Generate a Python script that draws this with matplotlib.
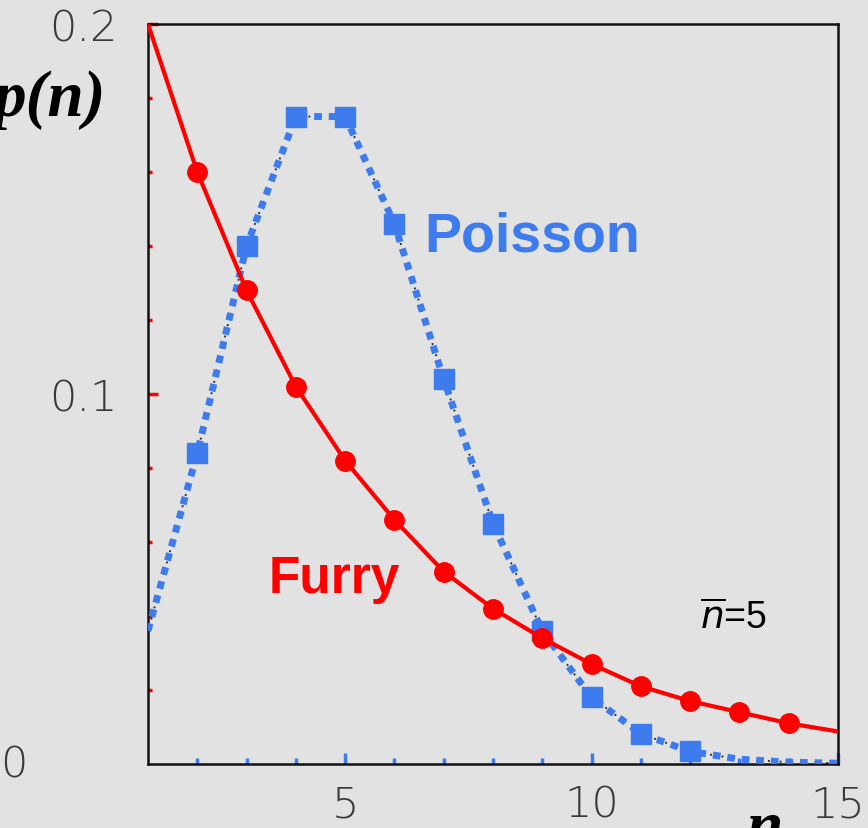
import numpy as np
import matplotlib.pyplot as plt

# 读图得到的数据
n_furry = [1, 2, 3, 4, 5, 6, 7, 8, 9, 10, 11, 12, 13, 14, 15]
p_furry = [0.200, 0.160, 0.128, 0.102, 0.082, 0.066, 0.052, 0.042,
           0.034, 0.027, 0.021, 0.017, 0.014, 0.011, 0.0088]
furry_marked = [2, 3, 4, 5, 6, 7, 8, 9, 10, 11, 12, 13, 14]

n_poisson = [1, 2, 3, 4, 5, 6, 7, 8, 9, 10, 11, 12, 13, 14, 15]
p_poisson = [0.036, 0.084, 0.140, 0.175, 0.175, 0.146, 0.104, 0.065,
             0.036, 0.018, 0.0082, 0.0034, 0.0013, 0.0005, 0.0002]
poisson_marked = [2, 3, 4, 5, 6, 7, 8, 9, 10, 11, 12]

y_major = [0.1, 0.2]
y_minor = [0.02, 0.04, 0.06, 0.08, 0.12, 0.14, 0.16, 0.18]
x_major = [5, 10, 15]
x_minor = [2, 3, 4, 6, 7, 8, 9, 11, 12, 13, 14]

RED = '#ff0000'
BLUE = '#3d7bef'
BG = '#e2e2e2'


def main():
    fig = plt.figure(figsize=(8.68, 8.29), dpi=100, facecolor=BG)
    ax = fig.add_axes([0.1705, 0.0772, 0.7949, 0.8926])
    ax.set_facecolor(BG)

    # Poisson: 细黑点线 + 粗蓝点线
    ax.plot(n_poisson, p_poisson, color='#333333', lw=1.4,
            linestyle=(0, (1, 5)), zorder=2)
    ax.plot(n_poisson, p_poisson, color=BLUE, lw=5,
            linestyle=(0, (1.1, 1.0)), zorder=3)
    pm = [p_poisson[n_poisson.index(k)] for k in poisson_marked]
    ax.plot(poisson_marked, pm, 's', color=BLUE, ms=14, zorder=4)

    # Furry
    ax.plot(n_furry, p_furry, color=RED, lw=3, zorder=5)
    fm = [p_furry[n_furry.index(k)] for k in furry_marked]
    ax.plot(furry_marked, fm, 'o', color=RED, ms=14, zorder=6)

    ax.set_xlim(1, 15)
    ax.set_ylim(0, 0.2)

    for s in ax.spines.values():
        s.set_color('#111111')
        s.set_linewidth(1.8)

    ax.set_yticks(y_major)
    ax.set_yticklabels(['0.1', '0.2'])
    ax.set_yticks(y_minor, minor=True)
    ax.set_xticks(x_major)
    ax.set_xticklabels(['5', '10', '15'])
    ax.set_xticks(x_minor, minor=True)

    ax.tick_params(axis='y', which='major', direction='in', length=7,
                   width=2.5, color=RED, pad=22, labelsize=31,
                   labelcolor='#3a3a3a')
    ax.tick_params(axis='y', which='minor', direction='in', length=3,
                   width=2.5, color=RED)
    ax.tick_params(axis='x', which='major', direction='in', length=8,
                   width=2.5, color=BLUE, pad=14, labelsize=31,
                   labelcolor='#3a3a3a')
    ax.tick_params(axis='x', which='minor', direction='in', length=4,
                   width=2.5, color=BLUE)
    for lab in ax.get_xticklabels() + ax.get_yticklabels():
        lab.set_fontweight('light')
    ax.text(-0.194, 0.0, '0', transform=ax.transAxes, ha='center',
            va='center', fontsize=31, color='#3a3a3a', fontweight='light')

    # 标注
    ax.text(6.6, 0.1425, 'Poisson', color=BLUE, fontsize=40,
            fontweight='bold', family='Liberation Sans', va='center')
    ax.text(3.45, 0.0502, 'Furry', color=RED, fontsize=37,
            fontweight='bold', family='Liberation Sans', va='center')
    ax.text(12.2, 0.0395, r'$\overline{n}$=5', color='black', fontsize=27,
            family='Liberation Sans', va='center')

    fig.text(106 / 868, 1 - 100 / 829, 'p(n)', ha='right', va='center',
             fontsize=47, fontweight='bold', fontstyle='italic',
             family='Liberation Serif')
    fig.text(765 / 868, 1 - 800 / 829, 'n', ha='center', va='top',
             fontsize=47, fontweight='bold', fontstyle='italic',
             family='Liberation Serif')

    fig.savefig('out.png', dpi=100, facecolor=BG)


if __name__ == '__main__':
    main()
